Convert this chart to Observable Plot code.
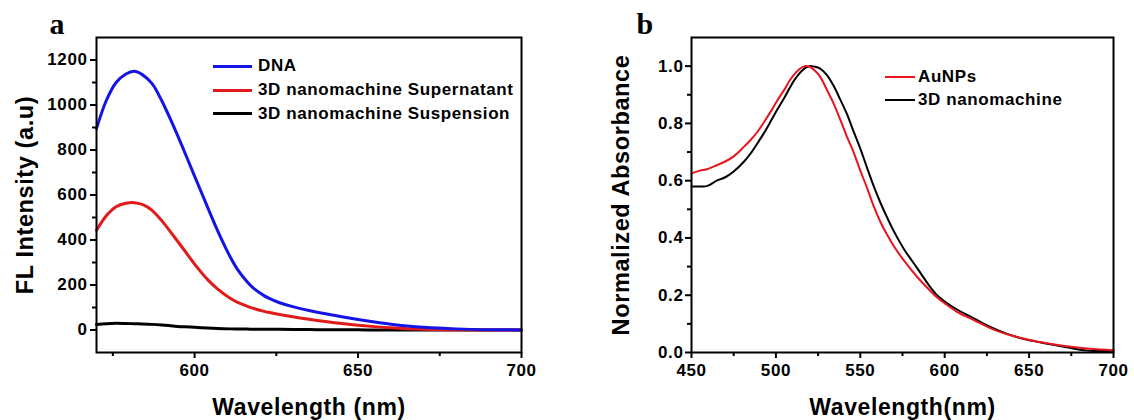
<!DOCTYPE html>
<html>
<head>
<meta charset="utf-8">
<script src="https://cdn.jsdelivr.net/npm/d3@7"></script>
<script src="https://cdn.jsdelivr.net/npm/@observablehq/plot@0.6"></script>
<style>
  html, body { margin: 0; padding: 0; background: white; }
  #wrap { position: relative; width: 1134px; height: 420px; display: flex; background: white; }
  .legend { position: absolute; font-family: 'Liberation Sans', Arial, sans-serif; font-weight: bold; font-size: 17px; letter-spacing: 0.6px; color: black; }
  .row { position: absolute; left: 0; height: 20px; display: flex; align-items: center; white-space: nowrap; }
  .swatch { display: inline-block; }
</style>
</head>
<body>
<div id="wrap"></div>
<script>
// ---------- Panel a: fluorescence spectra ----------
const aWavelength =  [570, 573, 576, 579, 581.5, 584, 587, 590, 594, 597, 600, 604, 607, 611, 613, 616, 618, 621, 623, 626, 630, 635, 640, 645, 650, 655, 660, 665, 670, 680, 690, 700];
const aDNA =         [895, 1020, 1100, 1138, 1150, 1135, 1095, 1018, 892, 789, 684, 545, 443, 322, 272, 216, 186, 155, 139, 121, 104, 87, 72, 59, 47, 36, 26, 18, 12, 5, 1.5, 0.5];
const aSupernatant = [443, 508, 548, 563, 566, 558, 532, 485, 410, 352, 293, 224, 183, 140, 124, 106, 96, 84, 77.5, 69, 59, 47.5, 37.5, 29, 21.5, 15, 9.5, 5.5, 3, 1, 0.3, 0];
const aSuspension =  [24, 28, 30, 29, 28, 27, 25, 22, 17, 14, 12, 9, 7, 5, 4.5, 4, 3.5, 3, 3, 3, 2, 2, 1, 1, 1, 0, 0, 0, 0, 0, 0, 0];
const aSeriesNames = ["DNA", "3D nanomachine Supernatant", "3D nanomachine Suspension"];
const aColors = ["#1414e6", "#e31a1a", "#000000"];
const aXTicks = [600, 650, 700];
const aXMinor = [575, 625, 675];
const aYTicks = [0, 200, 400, 600, 800, 1000, 1200];
const aYMinor = [100, 300, 500, 700, 900, 1100];

// ---------- Panel b: absorbance spectra ----------
const bWavelength = [450, 455, 459, 465, 470, 475, 481, 485, 489, 493, 497, 501, 505, 508, 511, 514, 517, 520, 523, 526, 530, 534, 538, 542, 546, 550, 554, 558, 562, 566, 570, 576, 584, 591, 595, 600, 607, 617, 627, 637, 647, 657, 666, 676, 686, 700];
const bAuNPs = [0.625, 0.635, 0.640, 0.654, 0.667, 0.685, 0.718, 0.742, 0.770, 0.805, 0.842, 0.882, 0.918, 0.948, 0.972, 0.990, 1.000, 0.998, 0.985, 0.965, 0.920, 0.872, 0.815, 0.755, 0.700, 0.635, 0.575, 0.510, 0.455, 0.410, 0.370, 0.320, 0.262, 0.218, 0.195, 0.172, 0.143, 0.114, 0.085, 0.064, 0.048, 0.036, 0.027, 0.019, 0.013, 0.008];
const bNano =  [0.580, 0.580, 0.581, 0.600, 0.612, 0.632, 0.666, 0.695, 0.730, 0.767, 0.808, 0.850, 0.890, 0.922, 0.952, 0.975, 0.992, 1.000, 0.998, 0.992, 0.970, 0.933, 0.885, 0.834, 0.772, 0.712, 0.645, 0.580, 0.522, 0.470, 0.422, 0.360, 0.292, 0.232, 0.203, 0.178, 0.151, 0.120, 0.089, 0.065, 0.047, 0.035, 0.025, 0.014, 0.006, 0.006];
const bSeriesNames = ["AuNPs", "3D nanomachine"];
const bColors = ["#e8141e", "#000000"];
const bXTicks = [450, 500, 550, 600, 650, 700];
const bXMinor = [475, 525, 575, 625, 675];
const bYTicks = [0, 0.2, 0.4, 0.6, 0.8, 1.0];
const bYMinor = [0.1, 0.3, 0.5, 0.7, 0.9];

const rows = (xs, ys) => xs.map((w, i) => ({w, v: ys[i]}));
const baseStyle = "font-family: 'Liberation Sans', Arial, sans-serif; font-size: 17px; font-weight: bold; letter-spacing: 0.6px; color: black; background: white; overflow: visible;";
const blank = () => "";
const plain = d => String(d);

const plotA = Plot.plot({
  width: 567, height: 420,
  marginLeft: 96, marginRight: 46, marginTop: 37, marginBottom: 68,
  style: baseStyle,
  x: {domain: [570, 700]},
  y: {domain: [-100, 1300]},
  marks: [
    Plot.axisX({ticks: aXTicks, tickSize: 6, tickPadding: 5, strokeWidth: 2, tickFormat: plain, label: null}),
    Plot.axisX({ticks: aXMinor, tickSize: 4, tickFormat: blank, strokeWidth: 2, label: null}),
    Plot.axisY({ticks: aYTicks, tickSize: 6, tickPadding: 3, strokeWidth: 2, tickFormat: plain, label: null}),
    Plot.axisY({ticks: aYMinor, tickSize: 4, tickFormat: blank, strokeWidth: 2, label: null}),
    Plot.line(rows(aWavelength, aSuspension), {x: "w", y: "v", stroke: aColors[2], strokeWidth: 3, curve: "catmull-rom"}),
    Plot.line(rows(aWavelength, aSupernatant), {x: "w", y: "v", stroke: aColors[1], strokeWidth: 3, curve: "catmull-rom"}),
    Plot.line(rows(aWavelength, aDNA), {x: "w", y: "v", stroke: aColors[0], strokeWidth: 3, curve: "catmull-rom"}),
    Plot.frame({stroke: "black", strokeWidth: 2}),
    Plot.text(["FL Intensity (a.u)"], {text: d => d, frameAnchor: "left", rotate: -90, dx: -71, textAnchor: "middle", lineAnchor: "middle", fontSize: 23.5, fontWeight: "bold"}),
    Plot.text(["Wavelength (nm)"], {text: d => d, frameAnchor: "bottom", dy: 55, textAnchor: "middle", lineAnchor: "middle", fontSize: 23, fontWeight: "bold"}),
    Plot.text(["a"], {text: d => d, frameAnchor: "top-left", dx: -47, dy: -4, textAnchor: "start", lineAnchor: "bottom", fontSize: 30, fontWeight: "bold", fontFamily: "'Liberation Serif', 'Times New Roman', serif"})
  ]
});

const plotB = Plot.plot({
  width: 567, height: 420,
  marginLeft: 124, marginRight: 21, marginTop: 37, marginBottom: 68,
  style: baseStyle,
  x: {domain: [450, 700]},
  y: {domain: [0, 1.1]},
  marks: [
    Plot.axisX({ticks: bXTicks, tickSize: 6, tickPadding: 5, strokeWidth: 2, tickFormat: plain, label: null}),
    Plot.axisX({ticks: bXMinor, tickSize: 4, tickFormat: blank, strokeWidth: 2, label: null}),
    Plot.axisY({ticks: bYTicks, tickSize: 6, tickPadding: 2, strokeWidth: 2, tickFormat: d3.format(".1f"), label: null}),
    Plot.axisY({ticks: bYMinor, tickSize: 4, tickFormat: blank, strokeWidth: 2, label: null}),
    Plot.line(rows(bWavelength, bNano), {x: "w", y: "v", stroke: bColors[1], strokeWidth: 2, curve: "catmull-rom"}),
    Plot.line(rows(bWavelength, bAuNPs), {x: "w", y: "v", stroke: bColors[0], strokeWidth: 2, curve: "catmull-rom"}),
    Plot.frame({stroke: "black", strokeWidth: 2}),
    Plot.text(["Normalized Absorbance"], {text: d => d, frameAnchor: "left", rotate: -90, dx: -70, textAnchor: "middle", lineAnchor: "middle", fontSize: 23.5, fontWeight: "bold"}),
    Plot.text(["Wavelength(nm)"], {text: d => d, frameAnchor: "bottom", dy: 55, textAnchor: "middle", lineAnchor: "middle", fontSize: 23, fontWeight: "bold"}),
    Plot.text(["b"], {text: d => d, frameAnchor: "top-left", dx: -55, dy: -4, textAnchor: "start", lineAnchor: "bottom", fontSize: 30, fontWeight: "bold", fontFamily: "'Liberation Serif', 'Times New Roman', serif"})
  ]
});

const wrap = document.getElementById("wrap");
wrap.appendChild(plotA);
wrap.appendChild(plotB);

function addLegend(names, colors, left, centers, lineW, lineH, gap) {
  const lg = document.createElement("div");
  lg.className = "legend";
  lg.style.left = left + "px";
  lg.style.top = "0px";
  names.forEach((name, i) => {
    const r = document.createElement("div");
    r.className = "row";
    r.style.top = (centers[i] - 10) + "px";
    const sw = document.createElement("span");
    sw.className = "swatch";
    sw.style.width = lineW + "px";
    sw.style.height = lineH + "px";
    sw.style.background = colors[i];
    sw.style.marginRight = gap + "px";
    const t = document.createElement("span");
    t.textContent = name;
    r.appendChild(sw);
    r.appendChild(t);
    lg.appendChild(r);
  });
  wrap.appendChild(lg);
}
addLegend(aSeriesNames, aColors, 213, [66, 90, 113.5], 39, 3, 6);
addLegend(bSeriesNames, bColors, 885, [77, 99.5], 30, 2, 3);
</script>
</body>
</html>
